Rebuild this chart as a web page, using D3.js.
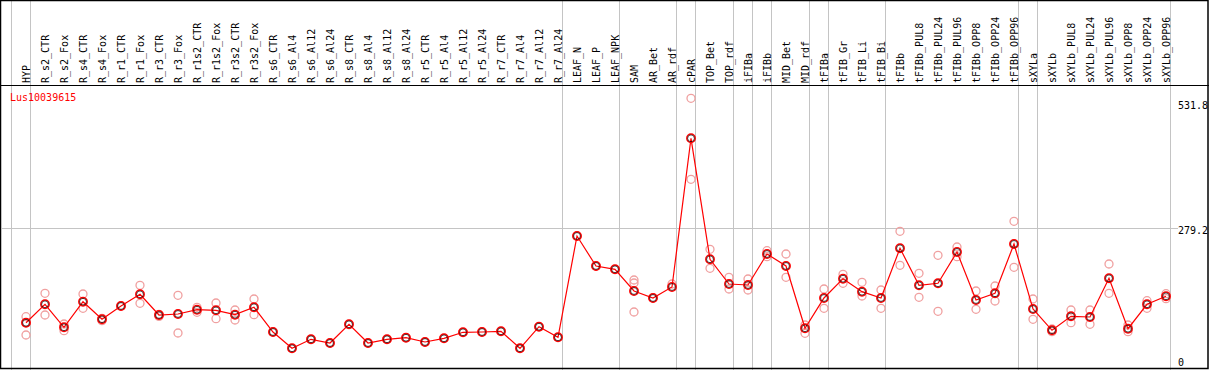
<!DOCTYPE html>
<html>
<head>
<meta charset="utf-8">
<script src="https://cdn.jsdelivr.net/npm/d3@7"></script>
<style>
  body { margin: 0; background: #fff; }
  svg { display: block; font-family: "DejaVu Sans Mono", monospace; font-size: 10px; }
</style>
</head>
<body>
<script>
const geneName = "Lus10039615";

const samples = ["HYP", "R_s2_CTR", "R_s2_Fox", "R_s4_CTR", "R_s4_Fox", "R_r1_CTR", "R_r1_Fox",
  "R_r3_CTR", "R_r3_Fox", "R_r1s2_CTR", "R_r1s2_Fox", "R_r3s2_CTR", "R_r3s2_Fox",
  "R_s6_CTR", "R_s6_Al4", "R_s6_Al12", "R_s6_Al24", "R_s8_CTR", "R_s8_Al4", "R_s8_Al12", "R_s8_Al24",
  "R_r5_CTR", "R_r5_Al4", "R_r5_Al12", "R_r5_Al24", "R_r7_CTR", "R_r7_Al4", "R_r7_Al12", "R_r7_Al24",
  "LEAF_N", "LEAF_P", "LEAF_NPK", "SAM", "AR_Bet", "AR_rdf", "cPAR", "TOP_Bet", "TOP_rdf",
  "iFIBa", "iFIBb", "MID_Bet", "MID_rdf", "tFIBa", "tFIB_Gr", "tFIB_Li", "tFIB_Bi",
  "tFIBb", "tFIBb_PUL8", "tFIBb_PUL24", "tFIBb_PUL96", "tFIBb_OPP8", "tFIBb_OPP24", "tFIBb_OPP96",
  "sXYLa", "sXYLb", "sXYLb_PUL8", "sXYLb_PUL24", "sXYLb_PUL96", "sXYLb_OPP8", "sXYLb_OPP24", "sXYLb_OPP96"];

// sample groups (number of samples per group), separated by grey lines
const groupSizes = [1, 28, 3, 3, 1, 2, 1, 1, 2, 1, 3, 7, 1, 7];

const means = [89.2, 126.3, 80.0, 131.5, 96.1, 122.9, 146.4, 104.7, 106.8, 115.4, 114.2, 105.4, 120.3,
  70.5, 37.7, 55.8, 48.3, 86.0, 48.3, 55.8, 59.0, 50.4, 57.8, 69.9, 70.5, 71.9, 37.7, 81.2, 59.8,
  263.9, 203.5, 196.8, 153.1, 139.0, 161.2, 460.7, 217.0, 167.2, 165.2, 227.6, 203.5, 78.0,
  139.0, 177.9, 151.7, 139.0, 239.1, 164.6, 168.6, 231.7, 135.0, 148.5, 247.8,
  116.8, 73.9, 102.1, 100.7, 178.7, 77.2, 126.3, 142.4];

const replicates = [[101.3, 64.5, 89.2], [148.5, 104.7], [86.6, 73.1], [147.1, 118.2], [93.3, 98.1],
  [122.9], [164.6, 128.3], [106.0, 102.0], [144.4, 68.5], [120.3, 110.2], [128.9, 97.3],
  [114.8, 94.7], [137.0, 105.4], [70.5], [37.7], [55.8], [48.3], [86.0], [48.3], [55.8], [59.0],
  [50.4], [57.8], [69.9], [70.5], [71.9], [37.7], [81.2], [59.8], [263.9], [203.5], [196.8],
  [175.3, 169.2, 110.8], [139.0], [167.2], [541.3, 378.1], [237.1, 198.8], [180.7, 157.1],
  [177.3, 155.1], [234.3, 222.2], [227.6, 180.7], [84.6, 67.9], [157.1, 118.2], [186.7, 168.6],
  [170.6, 143.0], [155.1, 118.2], [273.4, 204.9], [188.7, 140.4], [225.0, 112.2], [241.7, 222.2],
  [153.1, 116.2], [163.2, 132.9], [293.5, 200.8], [137.0, 96.1], [76.5, 71.1], [114.8, 89.2],
  [114.8, 86.0], [207.5, 148.5], [84.6, 71.1], [133.6, 118.2], [147.7, 137.6]];

const yTicks = [0, 279.2, 531.8];

const W = 1209, H = 370;
const headerBottom = 85.5;

const svg = d3.select("body").append("svg")
  .attr("width", W)
  .attr("height", H);

const x = d3.scaleBand()
  .domain(samples)
  .range([12, 12 + samples.length * 19])
  .padding(0);
const px = d => x(d) + 14;

const y = d3.scaleLinear()
  .domain([0, 531.8])
  .range([367, 103]);

// group separators
let bounds = [x(samples[0])];
let k = 0;
groupSizes.forEach(n => {
  k += n;
  bounds.push(x(samples[k - 1]) + x.bandwidth());
});

svg.append("g").attr("class", "vgrid")
  .selectAll("line")
  .data(bounds)
  .enter()
  .append("line")
  .attr("x1", d => Math.round(d) - 0.5)
  .attr("x2", d => Math.round(d) - 0.5)
  .attr("y1", 0)
  .attr("y2", H)
  .attr("stroke", "#c4c4c4")
  .attr("stroke-width", 1);

// horizontal grid (middle tick only)
svg.append("line")
  .attr("x1", 2)
  .attr("x2", 1178)
  .attr("y1", Math.round(y(yTicks[1])) + 0.5)
  .attr("y2", Math.round(y(yTicks[1])) + 0.5)
  .attr("stroke", "#c4c4c4")
  .attr("stroke-width", 1);

// frame
svg.append("rect")
  .attr("x", 0.5).attr("y", 0.5)
  .attr("width", W - 1.5).attr("height", H - 2)
  .attr("fill", "none")
  .attr("stroke", "#000")
  .attr("stroke-width", 1.5);
svg.append("line")
  .attr("x1", 0).attr("x2", W)
  .attr("y1", headerBottom).attr("y2", headerBottom)
  .attr("stroke", "#000")
  .attr("stroke-width", 1.2);

// sample labels (rotated)
svg.append("g").attr("class", "labels")
  .selectAll("text")
  .data(samples)
  .enter()
  .append("text")
  .attr("transform", d => `translate(${px(d) + 3.5},${headerBottom - 2.5}) rotate(-90)`)
  .attr("fill", "#000")
  .text(d => d);

// gene name
svg.append("text")
  .attr("x", 10)
  .attr("y", 100.5)
  .attr("fill", "#ff0000")
  .text(geneName);

// y tick labels
svg.append("g").attr("class", "yticks")
  .selectAll("text")
  .data(yTicks)
  .enter()
  .append("text")
  .attr("x", 1178)
  .attr("y", d => d === 0 ? y(d) - 1 : y(d) + 5.5)
  .attr("fill", "#000")
  .text(d => d === 0 ? "0" : d.toFixed(1));

// replicates
const repPts = [];
replicates.forEach((arr, i) => arr.forEach(v => repPts.push({ s: samples[i], v: v })));
svg.append("g").attr("class", "reps")
  .selectAll("circle")
  .data(repPts)
  .enter()
  .append("circle")
  .attr("cx", d => px(d.s))
  .attr("cy", d => y(d.v))
  .attr("r", 4)
  .attr("fill", "none")
  .attr("stroke", "#f0a0a0")
  .attr("stroke-width", 1.3);

// mean line
const line = d3.line()
  .x((d, i) => px(samples[i]))
  .y(d => y(d));

svg.append("path")
  .attr("d", line(means))
  .attr("fill", "none")
  .attr("stroke", "#ff0000")
  .attr("stroke-width", 1.2);

// mean markers
const mk = svg.append("g").attr("class", "means")
  .selectAll("g")
  .data(means)
  .enter()
  .append("g")
  .attr("transform", (d, i) => `translate(${px(samples[i])},${y(d)})`);
mk.append("circle")
  .attr("r", 4.2)
  .attr("fill", "none")
  .attr("stroke", "#ff0000")
  .attr("stroke-width", 1.5);
mk.append("circle")
  .attr("r", 3.4)
  .attr("fill", "none")
  .attr("stroke", "#000")
  .attr("stroke-width", 0.8)
  .attr("stroke-opacity", 0.85);
</script>
</body>
</html>
